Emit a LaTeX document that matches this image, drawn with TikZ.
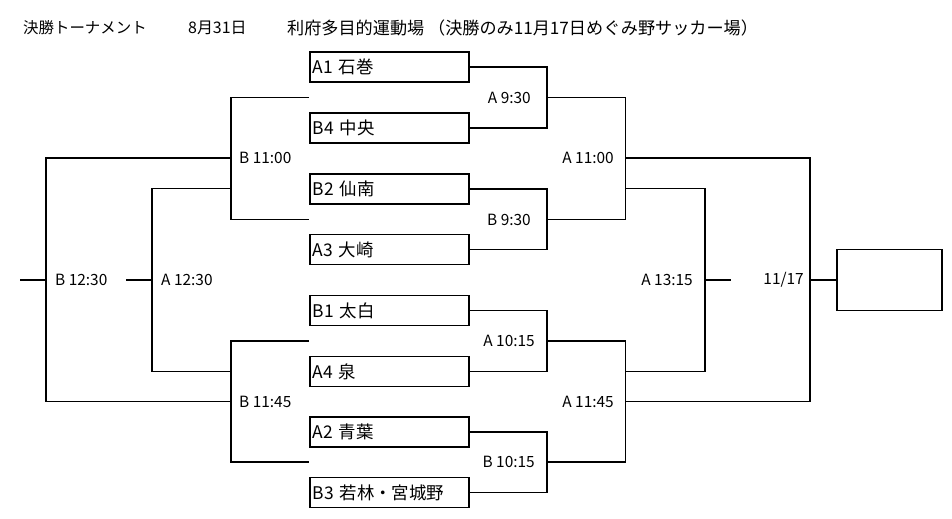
\documentclass[tikz,border=0pt]{standalone}
\usepackage{fontspec}
\setmainfont{Noto Sans CJK JP}
\begin{document}
\begin{tikzpicture}[x=1bp,y=-1bp,
  team/.style={draw, line width=1.5bp, anchor=west, minimum height=30bp,
    text width=153bp, inner xsep=3bp, inner ysep=0pt, align=left,
    font=\fontsize{17.5}{20}\selectfont},
  lbl/.style={inner sep=0pt, font=\fontsize{15.5}{18}\selectfont},
  ttl/.style={inner sep=0pt, anchor=west, font=\fontsize{16}{18}\selectfont},
  ln/.style={line width=1.3bp},
  finalbox/.style={draw, line width=1.5bp, minimum width=105bp, minimum height=61bp, inner sep=0pt}]
\useasboundingbox (0,0) rectangle (952,519);
% title
\node[ttl, font=\fontsize{15.5}{18}\selectfont] (h1) at (23,28) {決勝トーナメント};
\node[ttl] (h2) at (188,28) {8月31日};
\node[ttl, font=\fontsize{17.2}{19}\selectfont] (h3) at (287,28) {利府多目的運動場 （決勝のみ11月17日めぐみ野サッカー場）};
% teams
\node[team] (t1) at (309,67) {A1 石巻};
\node[team] (t2) at (309,128) {B4 中央};
\node[team] (t3) at (309,189) {B2 仙南};
\node[team] (t4) at (309,249.5) {A3 大崎};
\node[team] (t5) at (309,310.5) {B1 太白};
\node[team] (t6) at (309,371.5) {A4 泉};
\node[team] (t7) at (309,432) {A2 青葉};
\node[team] (t8) at (309,492.5) {B3 若林・宮城野};
% final box
\node[finalbox] (final) at (889.5,280) {};
% coordinates
\coordinate (m1) at (547,97.5);
\coordinate (m2) at (547,219.5);
\coordinate (m3) at (547,341);
\coordinate (m4) at (547,462);
\coordinate (s1) at (625.5,158);
\coordinate (s2) at (625.5,401.5);
\coordinate (u1) at (625.5,188.5);
\coordinate (u2) at (625.5,371.5);
\coordinate (f) at (810,280);
\coordinate (u) at (705,280);
\coordinate (ue) at (731,280);
\coordinate (L1) at (309,97.5);
\coordinate (L2) at (309,219.5);
\coordinate (L3) at (309,341);
\coordinate (L4) at (309,462);
\coordinate (b1) at (231,158);
\coordinate (b2) at (231,401.5);
\coordinate (v1) at (231,188.5);
\coordinate (v2) at (231,371.5);
\coordinate (c) at (46,280);
\coordinate (ce) at (20,280);
\coordinate (v) at (152,280);
\coordinate (ve) at (126,280);
% right brackets
\draw[ln] (t1.east) -| (m1) |- (t2.east);
\draw[ln] (t3.east) -| (m2) |- (t4.east);
\draw[ln] (t5.east) -| (m3) |- (t6.east);
\draw[ln] (t7.east) -| (m4) |- (t8.east);
\draw[ln] (m1) -| (s1) |- (m2);
\draw[ln] (m3) -| (s2) |- (m4);
\draw[ln] (s1) -| (f) |- (s2);
\draw[ln] (f) -- (final.west);
\draw[ln] (u1) -| (u) |- (u2);
\draw[ln] (u) -- (ue);
% left brackets
\draw[ln] (L1) -| (b1) |- (L2);
\draw[ln] (L3) -| (b2) |- (L4);
\draw[ln] (b1) -| (c) |- (b2);
\draw[ln] (c) -- (ce);
\draw[ln] (v1) -| (v) |- (v2);
\draw[ln] (v) -- (ve);
% labels
\node[lbl, anchor=east] (la1) at (531,97.5) {A 9:30};
\node[lbl, anchor=east] (la2) at (531,219.5) {B 9:30};
\node[lbl, anchor=east] (la3) at (535,341) {A 10:15};
\node[lbl, anchor=east] (la4) at (535,462) {B 10:15};
\node[lbl, anchor=east] (la5) at (614,158) {A 11:00};
\node[lbl, anchor=east] (la6) at (614,402) {A 11:45};
\node[lbl, anchor=east] (la7) at (693,280) {A 13:15};
\node[lbl, anchor=east] (la8) at (804,280) {11/17};
\node[lbl, anchor=west] (lb1) at (239,158) {B 11:00};
\node[lbl, anchor=west] (lb2) at (239,402) {B 11:45};
\node[lbl, anchor=west] (lb3) at (161,280) {A 12:30};
\node[lbl, anchor=west] (lb4) at (55,280) {B 12:30};
\end{tikzpicture}
\end{document}
